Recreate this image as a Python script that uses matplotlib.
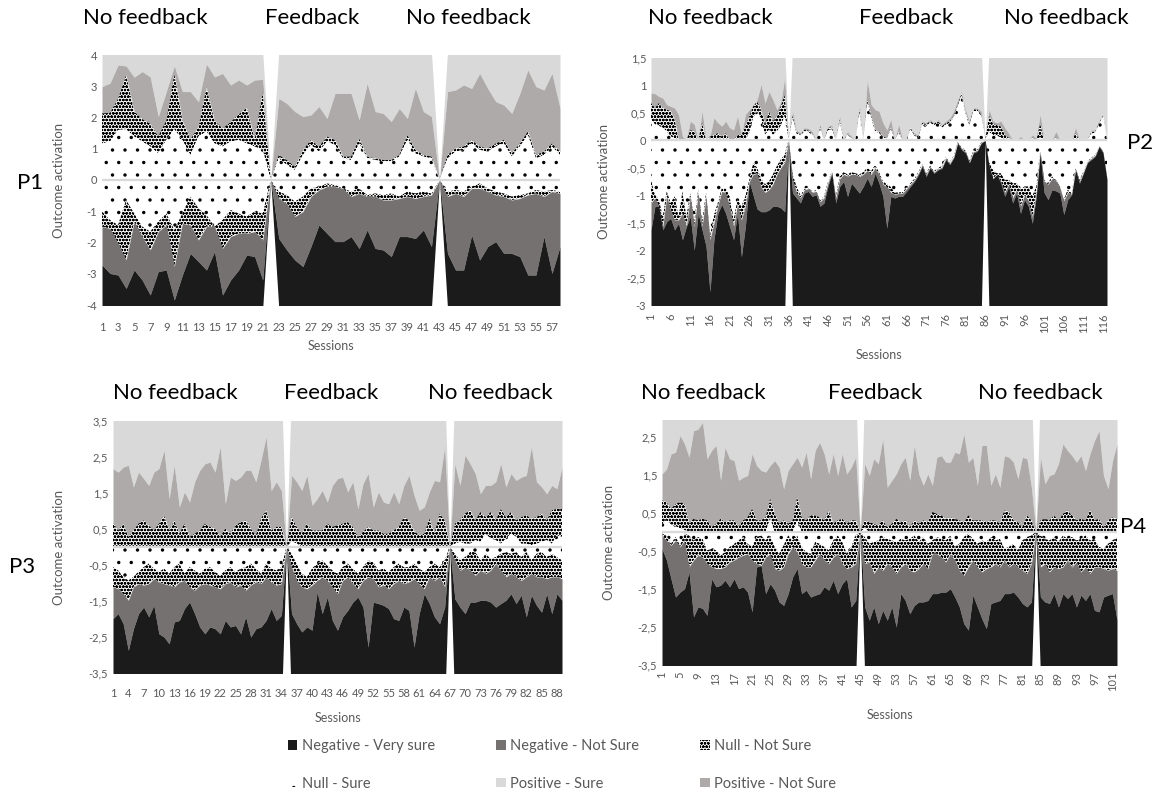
import numpy as np
import matplotlib
matplotlib.use("Agg")
import matplotlib.pyplot as plt
import matplotlib.hatch as mhatch
from matplotlib.patches import Patch

plt.rcParams['font.family'] = ['Lato', 'DejaVu Sans']
plt.rcParams['hatch.color'] = 'black'
plt.rcParams['hatch.linewidth'] = 0.8


# '.' hatch: a bit finer grid and smaller dots than the default (closer to Excel's "dotted" fill)
class SparseDots(mhatch.SmallFilledCircles):
    size = 0.09

    def __init__(self, hatch, density):
        self.num_rows = hatch.count('.') * 8
        mhatch.Circles.__init__(self, hatch, density)


mhatch._hatch_types[mhatch._hatch_types.index(mhatch.SmallFilledCircles)] = SparseDots

# colours / patterns of the six categories
C_NEG_VS = '#1b1b1b'
C_NEG_NS = '#767171'
C_POS_NS = '#aeaaaa'
C_POS_S = '#d9d9d9'
DENSE = 'ooooo'
SPARSE = '.'
GREY_TXT = '#595959'

# ---------------- P1 : 58 sessions, breaks at 22 and 43 ----------------
p1_n = 58
p1_gaps = [22, 43]
p1_outer = (4.1, -4.1)
p1_pos_notsure = [2.99, 3.10, 3.68, 3.65, 3.29, 3.47, 3.30, 2.03, 2.83, 3.65, 2.83, 2.83, 2.50, 3.71, 3.30, 3.41, 3.04, 3.20, 3.04, 3.20, 3.22, 0,
                  2.61, 2.45, 2.19, 2.03, 2.08, 2.35, 1.97, 2.77, 2.77, 2.77, 1.92, 3.09, 2.19, 2.13, 1.87, 2.29, 1.97, 2.93, 2.19, 2.03, 0,
                  2.83, 2.88, 3.04, 2.93, 3.41, 2.93, 2.51, 2.40, 2.13, 2.77, 3.52, 2.99, 2.88, 3.41, 2.30]
p1_null_notsure_top = [2.13, 2.15, 2.60, 3.36, 2.20, 1.95, 1.80, 1.40, 1.90, 3.40, 1.90, 1.30, 1.70, 2.95, 1.90, 1.65, 1.85, 2.10, 2.30, 1.30, 2.80, 0,
                       0.80, 0.64, 0.43, 0.96, 1.28, 1.07, 1.39, 1.28, 0.75, 0.75, 1.33, 0.75, 0.69, 0.64, 0.64, 0.80, 1.44, 0.96, 0.80, 0.75, 0,
                       0.80, 1.01, 1.07, 1.28, 1.07, 1.01, 1.17, 1.28, 0.85, 1.17, 1.55, 0.80, 0.91, 1.17, 0.91]
p1_null_sure_top = [1.17, 1.23, 1.60, 1.62, 1.39, 1.23, 1.07, 0.85, 1.28, 1.62, 1.28, 0.80, 1.39, 1.55, 1.17, 1.07, 1.23, 1.28, 1.17, 1.07, 0.96, 0,
                    0.69, 0.48, 0.32, 0.80, 1.12, 0.91, 1.23, 1.12, 0.69, 0.64, 1.17, 0.69, 0.64, 0.59, 0.59, 0.75, 1.28, 0.85, 0.75, 0.69, 0,
                    0.69, 0.91, 0.96, 1.17, 0.96, 0.91, 1.07, 1.17, 0.75, 1.07, 1.44, 0.69, 0.80, 1.07, 0.80]
p1_null_sure_bot = [-1.01, -1.28, -1.44, -0.64, -1.07, -1.49, -1.65, -1.33, -1.07, -1.60, -1.07, -0.53, -0.91, -1.12, -1.49, -1.28, -0.96, -1.07, -1.17, -1.01, -1.07, 0,
                    -0.37, -0.48, -0.69, -0.53, -0.27, -0.21, -0.11, -0.16, -0.27, -0.37, -0.27, -0.48, -0.43, -0.48, -0.43, -0.53, -0.37, -0.43, -0.37, -0.43, 0,
                    -0.37, -0.32, -0.37, -0.21, -0.11, -0.27, -0.37, -0.43, -0.53, -0.48, -0.43, -0.32, -0.37, -0.32, -0.37]
p1_null_notsure_bot = [-1.49, -1.55, -2.03, -2.56, -1.33, -1.81, -2.24, -1.65, -1.44, -2.77, -1.39, -1.44, -1.92, -1.49, -1.49, -2.19, -1.81, -1.71, -1.71, -1.65, -1.92, 0,
                       -0.59, -0.75, -1.17, -1.01, -0.53, -0.32, -0.21, -0.21, -0.27, -0.53, -0.43, -0.53, -0.53, -0.64, -0.64, -0.59, -0.53, -0.59, -0.53, -0.48, 0,
                       -0.53, -0.43, -0.53, -0.27, -0.27, -0.37, -0.48, -0.53, -0.64, -0.59, -0.48, -0.43, -0.53, -0.37, -0.43]
p1_neg_notsure_bot = [-2.72, -2.99, -3.04, -3.47, -2.88, -3.20, -3.68, -2.93, -2.88, -3.84, -3.04, -2.35, -2.61, -2.88, -2.29, -3.68, -3.20, -2.88, -2.40, -2.45, -3.20, 0,
                      -1.87, -2.24, -2.56, -2.77, -2.13, -1.44, -1.71, -1.97, -1.97, -1.81, -2.19, -1.60, -2.19, -2.24, -2.45, -1.81, -1.81, -1.87, -1.60, -2.13, 0,
                      -2.35, -2.88, -2.88, -1.76, -2.56, -2.13, -1.97, -2.35, -2.35, -2.45, -3.04, -3.04, -1.81, -2.99, -2.13]

# ---------------- P2 : 117 sessions, breaks at 36 and 86 ----------------
p2_n = 117
p2_gaps = [36, 86]
p2_outer = (1.7, -3.2)
p2_pos_notsure = [0.86, 0.85, 0.80, 0.77, 0.65, 0.62, 0.59, 0.47, 0.07, 0.01, 0.35, 0.29, 0.01, 0.53, 0.01, 0.01, 0.41, 0.32, 0.26, 0.35,
                  0.23, 0.19, 0.44, 0.01, 0.47, 0.56, 0.50, 0.74, 1.02, 0.68, 0.89, 0.74, 0.56, 0.68, 1.14, 0,
                  0.53, 0.19, 0.14, 0.23, 0.22, 0.16, 0.01, 0.29, 0.01, 0.26, 0.28, 0.01, 0.44, 0.01, 0.16, 0.07, 0.01, 0.62, 0.01, 1.10,
                  0.65, 0.56, 0.53, 0.32, 0.19, 0.38, 0.01, 0.29, 0.01, 0.04, 0.23, 0.13, 0.10, 0.35, 0.32, 0.38, 0.32, 0.38, 0.29, 0.35,
                  0.41, 0.53, 0.74, 0.89, 0.56, 0.35, 0.59, 0.59, 0.53, 0,
                  0.56, 0.35, 0.32, 0.35, 0.23, 0.13, 0.01, 0.01, 0.07, 0.01, 0.01, 0.10, 0.04, 0.47, 0.01, 0.01, 0.01, 0.16, 0.01, 0.01,
                  0.01, 0.01, 0.23, 0.01, 0.01, 0.01, 0.19, 0.19, 0.35, 0.47, 0.02]
p2_null_notsure_top = [0.68, 0.59, 0.68, 0.59, 0.56, 0.53, 0.38, 0.01, 0, 0, 0.19, 0.16, 0, 0.32, 0, 0.07, 0.10, 0.13, 0.07, 0.13,
                       0, 0, 0.10, 0.10, 0.26, 0.44, 0.62, 0.71, 0.56, 0.29, 0.53, 0.35, 0.44, 0.62, 0.83, 0,
                       0.45, 0.15, 0.10, 0.19, 0.18, 0.12, 0, 0.24, 0, 0.22, 0.24, 0, 0.38, 0, 0.12, 0.04, 0, 0.55, 0, 0.74,
                       0.44, 0.19, 0.16, 0.07, 0.04, 0.23, 0, 0.16, 0, 0, 0.23, 0.10, 0.07, 0.32, 0.29, 0.35, 0.30, 0.35, 0.26, 0.31,
                       0.35, 0.44, 0.65, 0.86, 0.50, 0.29, 0.56, 0.56, 0.47, 0,
                       0.45, 0.30, 0.28, 0.25, 0.10, 0.05, 0, 0, 0, 0, 0, 0.05, 0, 0.30, 0, 0, 0, 0.05, 0, 0,
                       0, 0, 0.13, 0, 0, 0, 0.15, 0.16, 0.32, 0.45, 0]
p2_null_sure_top = [0.38, 0.29, 0.26, 0.23, 0.16, 0.07, 0.04, 0.01, 0, 0, 0, 0, 0, 0, 0, 0, 0, 0, 0, 0,
                    0, 0, 0, 0, 0, 0.13, 0.41, 0.53, 0.38, 0.10, 0.19, 0.10, 0.16, 0.26, 0.44, 0,
                    0.40, 0.12, 0.08, 0.16, 0.15, 0.10, 0, 0.20, 0, 0.18, 0.20, 0, 0.33, 0, 0.10, 0.03, 0, 0.50, 0, 0.68,
                    0.40, 0.16, 0.13, 0.05, 0.03, 0.20, 0, 0.13, 0, 0, 0.20, 0.08, 0.05, 0.29, 0.26, 0.32, 0.27, 0.32, 0.23, 0.28,
                    0.32, 0.41, 0.62, 0.82, 0.47, 0.26, 0.53, 0.53, 0.44, 0,
                    0.15, 0.10, 0.08, 0.05, 0, 0, 0, 0, 0, 0, 0, 0, 0, 0.05, 0, 0, 0, 0, 0, 0,
                    0, 0, 0, 0, 0, 0, 0.12, 0.14, 0.30, 0.43, 0]
p2_null_sure_bot = [-0.72, -0.99, -1.08, -1.39, -0.93, -1.14, -1.02, -1.39, -0.93, -1.39, -0.96, -1.48, -0.90, -1.48, -0.96, -1.75, -1.36, -1.14, -0.87, -0.87,
                    -1.02, -1.45, -1.08, -1.20, -1.02, -0.72, -0.41, -0.50, -0.70, -0.80, -0.75, -0.62, -0.47, -0.35, -0.26, 0,
                    -0.60, -0.84, -1.00, -0.88, -0.86, -0.93, -0.91, -1.10, -1.02, -0.76, -0.56, -1.02, -0.66, -0.58, -0.62, -0.58, -0.60, -0.62, -0.58, -0.50,
                    -0.56, -0.45, -0.58, -0.75, -0.80, -0.85, -0.95, -0.95, -0.94, -0.86, -0.78, -0.70, -0.58, -0.43, -0.61, -0.46, -0.56, -0.50, -0.47, -0.31,
                    -0.40, -0.28, -0.03, -0.13, -0.19, -0.37, -0.19, -0.16, -0.03, 0,
                    -0.40, -0.54, -0.60, -0.60, -0.72, -0.72, -0.78, -0.78, -0.90, -0.84, -0.84, -1.02, -0.84, -0.20, -0.72, -0.78, -0.66, -0.72, -0.84, -1.08,
                    -0.90, -0.96, -0.50, -0.72, -0.57, -0.38, -0.32, -0.26, -0.10, -0.20, -0.69]
p2_null_notsure_bot = [-1.14, -1.05, -1.20, -1.57, -1.02, -1.27, -1.45, -1.45, -1.33, -1.57, -1.02, -1.57, -0.96, -1.57, -1.02, -1.81, -1.51, -1.20, -0.93, -0.96,
                       -1.20, -1.57, -1.17, -1.45, -1.20, -0.75, -0.62, -0.60, -0.85, -0.95, -0.90, -0.80, -0.62, -0.50, -0.40, 0,
                       -0.70, -0.95, -1.05, -0.90, -0.88, -0.95, -0.93, -1.12, -1.05, -0.78, -0.58, -1.05, -0.70, -0.62, -0.65, -0.62, -0.62, -0.66, -0.62, -0.55,
                       -0.62, -0.50, -0.62, -0.80, -0.85, -0.95, -0.98, -0.97, -0.96, -0.88, -0.80, -0.72, -0.60, -0.45, -0.63, -0.48, -0.58, -0.52, -0.49, -0.33,
                       -0.42, -0.30, -0.04, -0.15, -0.21, -0.39, -0.21, -0.18, -0.04, 0,
                       -0.45, -0.70, -0.62, -0.75, -0.95, -0.80, -1.05, -0.90, -1.20, -1.00, -1.10, -1.40, -0.95, -0.21, -0.75, -0.80, -0.70, -0.74, -0.86, -1.10,
                       -0.95, -0.98, -0.52, -0.75, -0.58, -0.39, -0.33, -0.27, -0.10, -0.21, -0.70]
p2_neg_notsure_bot = [-1.63, -1.20, -1.14, -1.63, -1.48, -1.42, -1.63, -1.51, -1.81, -1.33, -1.39, -2.00, -1.33, -1.63, -1.93, -2.76, -1.81, -1.33, -1.17, -1.33,
                      -1.57, -1.81, -1.33, -2.12, -1.57, -0.72, -1.00, -1.25, -1.30, -1.30, -1.27, -1.20, -1.20, -1.23, -1.30, 0,
                      -0.96, -1.05, -1.14, -0.96, -0.93, -1.02, -0.99, -1.20, -1.14, -0.84, -0.60, -1.14, -0.84, -0.75, -1.02, -0.78, -0.87, -0.96, -0.84, -0.69,
                      -0.84, -0.60, -0.78, -1.02, -1.60, -1.02, -1.05, -1.02, -1.02, -0.93, -0.84, -0.75, -0.63, -0.47, -0.66, -0.50, -0.60, -0.54, -0.51, -0.35,
                      -0.44, -0.32, -0.05, -0.17, -0.23, -0.41, -0.23, -0.20, -0.05, 0,
                      -0.47, -0.66, -0.60, -0.78, -1.02, -0.84, -1.14, -0.96, -1.33, -1.08, -1.20, -1.51, -1.02, -0.23, -0.95, -1.08, -0.90, -0.92, -0.96, -1.35,
                      -1.08, -0.99, -0.54, -0.78, -0.60, -0.41, -0.35, -0.29, -0.11, -0.23, -0.72]

# ---------------- P3 : 89 sessions, breaks at 35 and 67 ----------------
p3_n = 89
p3_gaps = [35, 67]
p3_outer = (4.5, -4.5)
p3_pos_notsure = [2.18, 2.08, 2.22, 2.27, 1.67, 2.08, 1.90, 1.71, 2.08, 2.18, 2.69, 1.34, 2.27, 1.11, 1.53, 1.25, 1.81, 2.13, 2.31, 2.36,
                  2.08, 2.78, 1.20, 1.94, 1.85, 1.94, 2.13, 2.13, 1.81, 2.41, 3.06, 1.57, 1.81, 1.57, 0,
                  1.99, 1.81, 1.57, 1.99, 1.16, 1.34, 1.57, 1.25, 1.71, 1.90, 1.94, 1.53, 1.81, 1.06, 1.76, 2.04, 1.11, 1.53, 1.25, 1.20,
                  1.53, 1.20, 1.71, 1.99, 1.44, 1.02, 1.11, 1.53, 1.85, 1.81, 2.78, 0,
                  2.31, 1.71, 2.55, 2.31, 2.04, 1.48, 1.71, 1.71, 1.81, 2.31, 1.67, 2.04, 1.85, 1.94, 1.99, 2.78, 1.81, 1.67, 1.48, 1.71,
                  1.62, 2.22]
p3_null_notsure_top = [0.69, 0.46, 0.65, 0.28, 0.46, 0.65, 0.74, 0.60, 0.46, 0.65, 0.88, 0.46, 0.74, 0.37, 0.65, 0.28, 0.37, 0.46, 0.65, 0.56,
                       0.51, 0.28, 0.51, 0.37, 0.60, 0.69, 0.74, 0.51, 0.32, 0.79, 1.02, 0.46, 0.56, 0.56, 0,
                       0.83, 0.56, 0.37, 0.65, 0.46, 0.46, 0.46, 0.65, 0.56, 0.60, 0.65, 0.69, 0.56, 0.28, 0.42, 0.56, 0.46, 0.46, 0.37, 0.37,
                       0.46, 0.56, 0.83, 0.74, 0.46, 0.32, 0.37, 0.79, 0.37, 0.93, 0.74, 0,
                       0.65, 0.74, 0.93, 1.02, 0.74, 0.97, 0.83, 0.97, 0.74, 1.06, 0.83, 0.97, 0.74, 0.83, 0.88, 0.79, 0.83, 0.93, 0.74, 1.02,
                       1.06, 1.06]
p3_null_sure_top = [0] * 34 + [0] + [0.15, 0.10] + [0] * 29 + [0] + \
                   [0.09, 0.14, 0.09, 0.09, 0.19, 0.14, 0.37, 0.23, 0.19, 0.09, 0.23, 0.37, 0.28, 0.09, 0.09, 0.05, 0.09, 0.14, 0.19, 0.09,
                    0.32, 0.28]
p3_null_sure_bot = [-0.56, -0.65, -0.83, -0.93, -0.83, -0.69, -0.56, -0.46, -0.60, -0.69, -0.60, -0.74, -0.56, -0.46, -0.74, -0.56, -0.65, -0.74, -0.60, -0.56,
                    -0.69, -0.79, -0.65, -0.56, -0.69, -0.60, -0.56, -0.46, -0.60, -0.74, -0.46, -0.60, -0.65, -0.56, 0,
                    -0.19, -0.46, -0.74, -0.83, -0.60, -0.46, -0.37, -0.51, -0.65, -0.74, -0.56, -0.46, -0.60, -0.74, -0.56, -0.37, -0.42, -0.65, -0.60, -0.69,
                    -0.56, -0.46, -0.56, -0.56, -0.46, -0.60, -0.69, -0.56, -0.46, -0.56, -0.37, 0,
                    -0.19, -0.37, -0.28, -0.14, -0.14, -0.37, -0.19, -0.32, -0.28, -0.19, -0.14, -0.19, -0.14, -0.28, -0.14, -0.37, -0.19, -0.14, -0.28, -0.19,
                    -0.28, -0.37]
p3_null_notsure_bot = [-1.11, -1.16, -1.30, -1.48, -1.11, -1.02, -1.06, -1.02, -0.88, -0.97, -1.02, -1.06, -1.11, -0.97, -0.93, -1.11, -1.20, -1.06, -1.02, -1.06,
                       -1.11, -1.16, -1.02, -0.97, -1.11, -1.06, -1.20, -1.06, -0.97, -1.02, -0.83, -0.97, -1.06, -1.02, 0,
                       -0.56, -0.93, -1.11, -1.16, -1.06, -0.93, -0.83, -0.93, -1.11, -1.30, -0.93, -0.83, -1.02, -1.16, -0.93, -0.83, -0.88, -1.11, -1.06, -1.16,
                       -1.02, -0.93, -1.02, -0.97, -0.88, -1.02, -1.16, -0.83, -0.93, -0.83, -1.11, 0,
                       -0.37, -0.65, -0.56, -0.65, -0.79, -0.65, -0.74, -0.65, -0.46, -0.65, -0.83, -0.74, -0.83, -0.93, -0.83, -0.74, -0.83, -0.83, -0.88, -0.83,
                       -0.83, -0.88]
p3_neg_notsure_bot = [-1.99, -1.85, -2.13, -2.87, -2.27, -1.85, -1.67, -1.94, -1.62, -2.41, -2.50, -2.69, -2.08, -2.04, -1.71, -1.53, -1.85, -2.22, -2.41, -2.22,
                      -2.27, -2.41, -2.04, -2.22, -2.18, -2.41, -1.94, -2.50, -2.27, -2.22, -2.04, -1.71, -2.04, -1.90, 0,
                      -1.85, -2.13, -2.36, -2.22, -2.31, -1.25, -1.85, -1.39, -2.04, -2.31, -1.94, -1.76, -1.53, -1.39, -1.67, -2.78, -1.53, -1.57, -1.62, -1.71,
                      -1.99, -2.04, -1.67, -1.76, -2.78, -1.85, -1.30, -1.57, -1.94, -2.13, -1.67, 0,
                      -1.44, -1.67, -1.85, -1.53, -1.53, -1.48, -1.48, -1.53, -1.67, -1.57, -1.48, -1.30, -1.57, -1.34, -1.94, -1.34, -1.62, -1.81, -1.30, -1.85,
                      -1.30, -1.48]

# ---------------- P4 : 102 sessions, breaks at 45 and 84 ----------------
p4_n = 102
p4_gaps = [45, 84]
p4_outer = (3.8, -3.8)
p4_pos_notsure = [1.53, 1.66, 2.06, 2.10, 2.54, 2.32, 1.97, 2.67, 2.71, 2.89, 1.93, 2.15, 2.28, 1.36, 2.23, 1.93, 1.88, 1.36, 1.44, 1.49,
                  2.06, 1.75, 1.62, 1.58, 1.75, 1.88, 1.71, 1.14, 1.62, 1.80, 1.97, 1.71, 2.10, 1.40, 2.15, 2.36, 2.06, 1.53, 2.06, 1.49,
                  2.06, 1.53, 1.71, 1.97, 0,
                  1.80, 1.49, 1.93, 1.80, 2.45, 1.18, 1.36, 1.53, 1.80, 1.97, 1.36, 2.28, 1.53, 1.23, 1.53, 1.23, 1.97, 2.01, 1.84, 1.84,
                  2.10, 2.06, 2.58, 1.84, 1.97, 1.23, 2.28, 2.28, 1.23, 1.53, 1.18, 2.01, 1.97, 1.84, 1.40, 1.97, 1.93, 1.18, 0,
                  1.97, 1.27, 1.49, 1.53, 1.80, 2.32, 2.15, 2.01, 1.84, 2.01, 1.62, 2.06, 2.41, 2.67, 1.49, 1.14, 1.88, 2.32]
p4_null_notsure_top = [0.83, 0.79, 0.61, 0.74, 0.79, 0.74, 0.22, 0.35, 0.31, 0.35, 0.31, 0.13, 0.22, 0.35, 0.26, 0.31, 0.31, 0.13, 0.31, 0.39,
                       0.61, 0.31, 0.31, 0.39, 0.88, 0.48, 0.22, 0.31, 0.22, 0.31, 0.92, 0.39, 0.31, 0.44, 0.44, 0.39, 0.31, 0.57, 0.22, 0.31,
                       0.35, 0.22, 0.31, 0.31, 0,
                       0.31, 0.26, 0.22, 0.18, 0.31, 0.13, 0.22, 0.35, 0.26, 0.31, 0.13, 0.31, 0.22, 0.31, 0.26, 0.53, 0.48, 0.44, 0.35, 0.39,
                       0.35, 0.31, 0.26, 0.44, 0.31, 0.31, 0.31, 0.26, 0.31, 0.31, 0.22, 0.57, 0.53, 0.31, 0.26, 0.13, 0.44, 0.31, 0,
                       0.31, 0.35, 0.31, 0.44, 0.31, 0.48, 0.57, 0.44, 0.31, 0.35, 0.31, 0.57, 0.31, 0.35, 0.13, 0.31, 0.39, 0.35]
p4_null_sure_top = [0.20, 0.30, 0.20, 0.15, 0.10, 0.05] + [0] * 18 + [0.35] + [0] * 5 + [0.30] + [0] * 13 + [0] + \
                   [0.10] + [0] * 37 + [0] + [0] * 18
p4_null_sure_bot = [-0.04, -0.09, -0.31, -0.13, -0.35, -0.04, -0.09, -0.22, -0.13, -0.18, -0.48, -0.44, -0.48, -0.61, -0.53, -0.39, -0.31, -0.22, -0.13, -0.31,
                    -0.39, -0.13, -0.09, -0.22, -0.09, -0.39, -0.57, -0.35, -0.09, -0.22, -0.09, -0.39, -0.53, -0.57, -0.26, -0.31, -0.39, -0.48, -0.22, -0.09,
                    -0.26, -0.57, -0.39, -0.09, 0,
                    -0.13, -0.31, -0.26, -0.22, -0.13, -0.18, -0.22, -0.26, -0.18, -0.22, -0.18, -0.09, -0.26, -0.13, -0.31, -0.22, -0.13, -0.18, -0.22, -0.09,
                    -0.39, -0.31, -0.13, -0.04, -0.18, -0.31, -0.22, -0.26, -0.13, -0.22, -0.18, -0.44, -0.39, -0.31, -0.48, -0.22, -0.13, -0.09, 0,
                    -0.09, -0.18, -0.22, -0.13, -0.26, -0.09, -0.18, -0.13, -0.22, -0.18, -0.09, -0.22, -0.18, -0.39, -0.44, -0.31, -0.22, -0.13]
p4_null_notsure_bot = [-0.09, -0.22, -0.35, -0.22, -0.39, -0.22, -0.92, -0.74, -0.61, -0.66, -0.83, -0.92, -0.96, -0.96, -0.92, -0.79, -0.74, -0.66, -0.61, -0.57,
                       -0.74, -0.83, -0.88, -0.66, -0.57, -0.96, -1.01, -0.92, -0.57, -0.39, -0.53, -0.83, -0.92, -0.92, -0.74, -0.57, -0.74, -0.83, -0.66, -0.57,
                       -0.83, -0.96, -0.92, -0.83, 0,
                       -0.83, -0.79, -1.09, -0.92, -1.01, -0.83, -0.92, -1.09, -0.92, -0.83, -1.01, -1.05, -0.96, -0.83, -0.96, -0.57, -0.57, -0.66, -0.79, -0.57,
                       -0.74, -1.01, -1.14, -0.92, -0.74, -0.92, -1.05, -0.96, -0.92, -0.83, -0.92, -0.74, -0.92, -0.83, -0.92, -1.01, -1.09, -0.83, 0,
                       -0.92, -0.83, -1.05, -0.92, -0.96, -0.92, -0.74, -0.92, -0.79, -1.05, -0.92, -1.09, -0.92, -0.92, -0.96, -1.01, -0.96, -1.01]
p4_neg_notsure_bot = [-0.44, -0.74, -1.23, -1.71, -1.58, -1.49, -1.05, -2.23, -1.97, -2.01, -2.19, -1.23, -1.44, -1.40, -1.27, -1.44, -1.23, -1.49, -1.44, -1.58,
                      -2.10, -0.92, -0.83, -1.62, -1.36, -1.53, -1.84, -1.93, -1.62, -1.18, -0.96, -1.62, -1.53, -1.71, -1.66, -1.62, -1.44, -1.53, -1.27, -1.62,
                      -1.36, -1.23, -1.97, -1.80, 0,
                      -1.97, -2.32, -1.97, -2.41, -2.06, -2.32, -1.97, -2.50, -1.62, -1.80, -2.15, -1.93, -1.84, -1.84, -1.80, -1.62, -1.62, -1.58, -1.58, -1.49,
                      -1.71, -1.97, -2.41, -2.58, -1.66, -1.97, -2.28, -2.54, -1.88, -1.84, -1.80, -1.62, -1.62, -1.58, -1.71, -1.88, -1.97, -1.84, 0,
                      -1.71, -1.84, -1.88, -1.62, -1.97, -1.62, -1.75, -1.62, -1.97, -1.66, -1.80, -1.62, -2.06, -2.10, -1.71, -1.66, -1.62, -2.32]

phase_titles = ['No feedback', 'Feedback', 'No feedback']


def comma(v):
    s = ('%g' % v).replace('.', ',')
    return s


def draw_panel(ax, n, gaps, outer, pos_ns, nns_top, ns_top, ns_bot, nns_bot, neg_ns_bot,
               ylim, yticks, xstep, rotate, xpad):
    x = np.arange(1, n + 1)
    for arr in (pos_ns, nns_top, ns_top, ns_bot, nns_bot, neg_ns_bot):
        assert len(arr) == n, (n, len(arr))
    gap = np.isin(x, gaps)
    b1 = np.maximum(np.array(ns_top, float), 0)
    b2 = np.maximum(np.array(nns_top, float), b1)
    b3 = np.maximum(np.array(pos_ns, float), b2)
    top = np.maximum(np.where(gap, 0, outer[0]), b3)
    n1 = np.minimum(np.array(ns_bot, float), 0)
    n2 = np.minimum(np.array(nns_bot, float), n1)
    n3 = np.minimum(np.array(neg_ns_bot, float), n2)
    bot = np.minimum(np.where(gap, 0, outer[1]), n3)

    ax.fill_between(x, b3, top, color=C_POS_S, lw=0)
    ax.fill_between(x, b2, b3, color=C_POS_NS, lw=0)
    ax.fill_between(x, b1, b2, facecolor='white', hatch=DENSE, lw=0)
    ax.fill_between(x, 0, b1, facecolor='white', hatch=SPARSE, lw=0)
    ax.fill_between(x, n1, 0, facecolor='white', hatch=SPARSE, lw=0)
    ax.fill_between(x, n2, n1, facecolor='white', hatch=DENSE, lw=0)
    ax.fill_between(x, n3, n2, color=C_NEG_NS, lw=0)
    ax.fill_between(x, bot, n3, color=C_NEG_VS, lw=0)
    ax.axhline(0, color='#d9d9d9', lw=1.6, zorder=5)

    ax.set_xlim(1, n)
    ax.set_ylim(*ylim)
    ax.set_yticks(yticks)
    ax.set_yticklabels([comma(v) for v in yticks])
    xt = np.arange(1, n + 1, xstep)
    ax.set_xticks(xt)
    ax.set_xticklabels([str(v) for v in xt], rotation=90 if rotate else 0)
    ax.tick_params(length=0, labelsize=8, labelcolor=GREY_TXT)
    ax.tick_params(axis='x', pad=xpad)
    for s in ax.spines.values():
        s.set_visible(False)
    ax.set_ylabel('Outcome activation', color=GREY_TXT, fontsize=9.5)
    ax.set_xlabel('Sessions', color=GREY_TXT, fontsize=9)


W, H = 1168, 807
fig = plt.figure(figsize=(W / 100, H / 100), dpi=100)


def box(l, t, r, b):
    return [l / W, 1 - b / H, (r - l) / W, (b - t) / H]


ax1 = fig.add_axes(box(102, 55, 560, 305))
ax2 = fig.add_axes(box(651, 58, 1107, 305))
ax3 = fig.add_axes(box(113, 421, 562, 673))
ax4 = fig.add_axes(box(662, 420, 1117, 665))

draw_panel(ax1, p1_n, p1_gaps, p1_outer, p1_pos_notsure, p1_null_notsure_top, p1_null_sure_top,
           p1_null_sure_bot, p1_null_notsure_bot, p1_neg_notsure_bot,
           (-4, 4), np.arange(-4, 4.01, 1), 2, False, 12)
draw_panel(ax2, p2_n, p2_gaps, p2_outer, p2_pos_notsure, p2_null_notsure_top, p2_null_sure_top,
           p2_null_sure_bot, p2_null_notsure_bot, p2_neg_notsure_bot,
           (-3, 1.5), np.arange(-3, 1.51, 0.5), 5, True, 6)
draw_panel(ax3, p3_n, p3_gaps, p3_outer, p3_pos_notsure, p3_null_notsure_top, p3_null_sure_top,
           p3_null_sure_bot, p3_null_notsure_bot, p3_neg_notsure_bot,
           (-3.5, 3.5), np.arange(-3.5, 3.51, 1), 3, False, 11)
draw_panel(ax4, p4_n, p4_gaps, p4_outer, p4_pos_notsure, p4_null_notsure_top, p4_null_sure_top,
           p4_null_sure_bot, p4_null_notsure_bot, p4_neg_notsure_bot,
           (-3.5, 2.95), np.arange(-3.5, 2.51, 1), 4, True, 5)

ax1.yaxis.set_label_coords(-0.081, 0.5)
ax2.yaxis.set_label_coords(-0.09, 0.5)
ax3.yaxis.set_label_coords(-0.107, 0.5)
ax4.yaxis.set_label_coords(-0.103, 0.5)
ax1.xaxis.set_label_coords(0.5, -0.14)
ax2.xaxis.set_label_coords(0.5, -0.18)
ax3.xaxis.set_label_coords(0.5, -0.155)
ax4.xaxis.set_label_coords(0.5, -0.18)

# phase headings
for xs, y in (([145, 312, 468], 18), ([710, 906, 1066], 18), ([175, 331, 490], 393), ([703, 875, 1040], 393)):
    for xc, t in zip(xs, phase_titles):
        fig.text(xc / W, 1 - y / H, t, ha='center', va='center', fontsize=16, color='black')

for t, (xc, y) in zip(['P1', 'P2', 'P3', 'P4'], [(30, 183), (1140, 143), (22, 567), (1133, 527)]):
    fig.text(xc / W, 1 - y / H, t, ha='center', va='center', fontsize=16, color='black')

handles = [Patch(facecolor=C_NEG_VS, label='Negative - Very sure'),
           Patch(facecolor='white', hatch=SPARSE, label='Null - Sure', lw=0),
           Patch(facecolor=C_NEG_NS, label='Negative - Not Sure'),
           Patch(facecolor=C_POS_S, label='Positive - Sure'),
           Patch(facecolor='white', hatch=DENSE, label='Null - Not Sure', lw=0),
           Patch(facecolor=C_POS_NS, label='Positive - Not Sure')]
leg = fig.legend(handles=handles, ncol=3, loc='center', bbox_to_anchor=(562 / W, 1 - 765 / H),
                 frameon=False, fontsize=10.5, handlelength=0.65, handleheight=0.65,
                 handletextpad=0.3, columnspacing=4.2, labelspacing=1.6)
for t in leg.get_texts():
    t.set_color(GREY_TXT)

fig.savefig('out.png', dpi=100)
